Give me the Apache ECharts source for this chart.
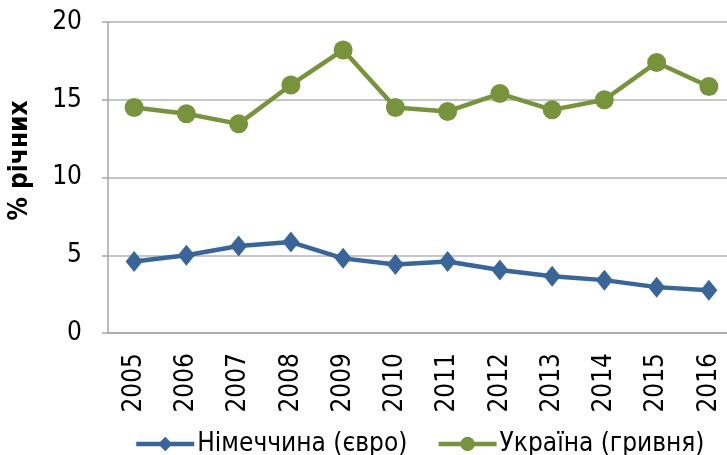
<!DOCTYPE html>
<html>
<head>
<meta charset="utf-8">
<script src="https://cdn.jsdelivr.net/npm/echarts@6/dist/echarts.min.js"></script>
<style>
  html, body { margin: 0; padding: 0; background: #fff; }
  #chart { width: 727px; height: 455px; }
</style>
</head>
<body>
<div id="chart"></div>
<script>
// роки
const years = ['2005', '2006', '2007', '2008', '2009', '2010', '2011', '2012', '2013', '2014', '2015', '2016'];
// Німеччина, % річних (євро)
const germany = [4.6, 5.0, 5.6, 5.85, 4.8, 4.4, 4.6, 4.05, 3.65, 3.4, 2.95, 2.75];
// Україна, % річних (гривня)
const ukraine = [14.5, 14.1, 13.45, 15.95, 18.2, 14.5, 14.25, 15.4, 14.35, 15.0, 17.4, 15.85];
const seriesNames = ['Німеччина (євро)', 'Україна (гривня)'];

const font = 'Tahoma, "DejaVu Sans Condensed", "Liberation Sans", sans-serif';

const myChart = echarts.init(document.getElementById('chart'));
const option = {
  animation: false,
  color: ['#3A6598', '#77933C'],
  grid: { left: 108, right: -8, top: 22, bottom: 122, containLabel: false, outerBoundsMode: 'none' },
  legend: {
    left: 134,
    top: 431,
    padding: 0,
    itemWidth: 58,
    itemHeight: 18,
    itemGap: 29,
    lineStyle: { width: 4.5 },
    textStyle: { fontFamily: font, fontSize: 26, color: '#000', padding: [0, 0, 0, -2] },
    data: seriesNames
  },
  xAxis: {
    type: 'category',
    data: years,
    boundaryGap: true,
    axisLine: { lineStyle: { color: '#A6A6A6', width: 1.5 } },
    axisTick: { alignWithLabel: true, length: 6, lineStyle: { color: '#A6A6A6', width: 1.5 } },
    axisLabel: { rotate: 90, margin: 20, fontFamily: font, fontSize: 26, color: '#000', interval: 0 }
  },
  yAxis: {
    type: 'value',
    min: 0,
    max: 20,
    interval: 5,
    name: '% річних',
    nameLocation: 'middle',
    nameGap: 75,
    nameTextStyle: { fontFamily: font, fontSize: 26, fontWeight: 'bold', color: '#000', padding: [0, 0, 0, 34] },
    axisLine: { show: true, lineStyle: { color: '#A6A6A6', width: 1.5 } },
    axisTick: { show: true, length: 6, lineStyle: { color: '#A6A6A6', width: 1.5 } },
    axisLabel: { margin: 26, fontFamily: font, fontSize: 26, color: '#000' },
    splitLine: { lineStyle: { color: '#B3B3B3', width: 1.5 } }
  },
  series: [
    {
      name: seriesNames[0],
      type: 'line',
      data: germany,
      symbol: 'diamond',
      symbolSize: [17, 21],
      lineStyle: { width: 4.5 },
      itemStyle: { color: '#3A6598' }
    },
    {
      name: seriesNames[1],
      type: 'line',
      data: ukraine,
      symbol: 'circle',
      symbolSize: 19,
      lineStyle: { width: 4.5 },
      itemStyle: { color: '#77933C' }
    }
  ]
};
myChart.setOption(option);
</script>
</body>
</html>
